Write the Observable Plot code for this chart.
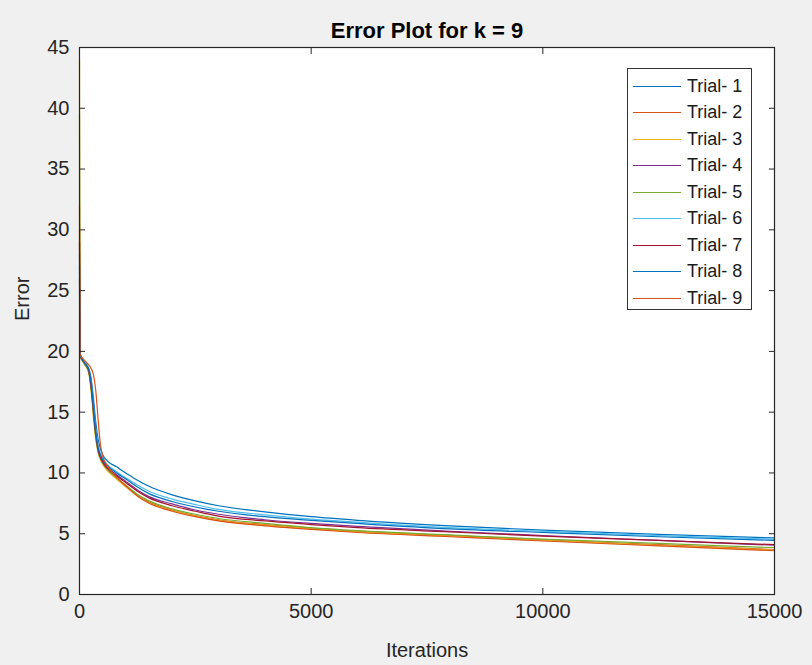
<!DOCTYPE html>
<html><head><meta charset="utf-8">
<script src="https://cdn.jsdelivr.net/npm/d3@7"></script>
<script src="https://cdn.jsdelivr.net/npm/@observablehq/plot@0.6"></script>
<style>
body{margin:0;background:#f0f0f0;}
#wrap{position:relative;width:812px;height:665px;background:#f0f0f0;font-family:"Liberation Sans",Arial,Helvetica,sans-serif;}
#legend{position:absolute;left:627px;top:68px;width:125px;height:242px;background:#fff;border:1px solid #333;box-sizing:border-box;}
.row{position:absolute;left:0;height:20px;display:flex;align-items:center;white-space:nowrap;}
.sw{width:48px;margin-left:5px;height:0;border-top:1.3px solid;}
.lbl{margin-left:6px;font-size:18px;color:#1a1a1a;}
</style></head><body><div id="wrap"></div>
<script>
// ---- data ----
const chartTitle = "Error Plot for k = 9";
const xLabel = "Iterations";
const yLabel = "Error";
const xTicks = [0, 5000, 10000, 15000];
const yTicks = [0, 5, 10, 15, 20, 25, 30, 35, 40, 45];
const iterations = [0, 10, 100, 200, 250, 300, 350, 400, 450, 500, 600, 800, 1000, 1250, 1500, 2000, 2500, 3000, 4000, 5000, 6000, 8000, 10000, 12500, 15000];
const trial1 = [28.0, 19.8, 19.2, 18.6, 17.8, 16.2, 14.2, 12.8, 12.0, 11.5, 11.0, 10.5, 10.0, 9.4, 8.9, 8.2, 7.7, 7.3, 6.8, 6.4, 6.1, 5.65, 5.3, 4.95, 4.65];
const trial2 = [30.0, 19.7, 19.0, 18.3, 17.0, 15.0, 13.0, 11.8, 11.2, 10.8, 10.3, 9.55, 8.9, 8.15, 7.6, 6.95, 6.5, 6.15, 5.75, 5.45, 5.2, 4.85, 4.5, 4.1, 3.7];
const trial3 = [44.0, 19.7, 19.0, 18.2, 16.8, 14.6, 12.8, 11.7, 11.1, 10.7, 10.2, 9.5, 8.85, 8.1, 7.55, 6.9, 6.45, 6.1, 5.7, 5.4, 5.15, 4.8, 4.45, 4.05, 3.65];
const trial4 = [26.0, 19.7, 19.1, 18.4, 17.2, 15.2, 13.3, 12.0, 11.4, 11.0, 10.5, 9.85, 9.3, 8.6, 8.05, 7.45, 6.95, 6.6, 6.15, 5.85, 5.6, 5.2, 4.85, 4.45, 4.05];
const trial5 = [39.5, 19.7, 19.0, 18.3, 17.0, 14.9, 13.0, 11.8, 11.2, 10.8, 10.3, 9.6, 9.0, 8.25, 7.7, 7.05, 6.6, 6.25, 5.85, 5.5, 5.25, 4.9, 4.55, 4.2, 3.85];
const trial6 = [25.0, 19.8, 19.2, 18.5, 17.5, 15.6, 13.6, 12.3, 11.6, 11.2, 10.7, 10.1, 9.6, 9.0, 8.5, 7.85, 7.4, 7.0, 6.55, 6.2, 5.95, 5.5, 5.2, 4.85, 4.55];
const trial7 = [29.0, 19.7, 19.1, 18.4, 17.1, 15.1, 13.2, 11.9, 11.3, 10.9, 10.4, 9.75, 9.2, 8.5, 7.95, 7.3, 6.85, 6.45, 6.05, 5.75, 5.5, 5.15, 4.8, 4.45, 4.1];
const trial8 = [27.0, 19.8, 19.1, 18.5, 17.4, 15.4, 13.4, 12.1, 11.5, 11.1, 10.6, 10.0, 9.5, 8.85, 8.3, 7.65, 7.2, 6.85, 6.4, 6.1, 5.85, 5.4, 5.1, 4.75, 4.45];
const trial9 = [32.0, 19.8, 19.3, 18.9, 18.6, 18.1, 16.8, 14.5, 12.4, 11.4, 10.6, 9.65, 8.95, 8.1, 7.5, 6.85, 6.4, 6.05, 5.65, 5.35, 5.1, 4.75, 4.4, 4.0, 3.6];
const trialNames = ["Trial- 1", "Trial- 2", "Trial- 3", "Trial- 4", "Trial- 5", "Trial- 6", "Trial- 7", "Trial- 8", "Trial- 9"];
const trialColors = ["#0072BD", "#D95319", "#EDB120", "#7E2F8E", "#77AC30", "#4DBEEE", "#A2142F", "#0072BD", "#D95319"];

// ---- build table ----
const series = [trial1, trial2, trial3, trial4, trial5, trial6, trial7, trial8, trial9];
const rows = [];
series.forEach((s, k) => s.forEach((v, i) => rows.push({trial: trialNames[k], iteration: iterations[i], error: v})));

const font = "'Liberation Sans', Arial, Helvetica, sans-serif";
const ink = "#262626";

const chart = Plot.plot({
  width: 812, height: 665,
  marginTop: 47, marginRight: 38, marginBottom: 71, marginLeft: 79,
  style: {background: "#f0f0f0", fontFamily: font, fontSize: "20px", color: ink, overflow: "visible"},
  x: {domain: [0, 15000], label: null},
  y: {domain: [0, 45], label: null},
  color: {domain: trialNames, range: trialColors},
  marks: [
    Plot.frame({fill: "white", stroke: null}),
    Plot.line(rows, {x: "iteration", y: "error", z: "trial", stroke: "trial", curve: "monotone-x", strokeWidth: 1.2}),
    Plot.frame({stroke: ink, strokeWidth: 1.2}),
    // tick labels
    Plot.axisX(xTicks, {anchor: "bottom", tickSize: 0, tickPadding: 9, fontSize: 20, fill: ink, tickFormat: d => String(d), label: null}),
    Plot.axisY(yTicks, {anchor: "left", tickSize: 0, tickPadding: 10, fontSize: 20, fill: ink, tickFormat: d => String(d), label: null}),
    // inward ticks on all four sides
    Plot.axisX(xTicks, {anchor: "bottom", tickSize: -6, tickFormat: () => "", stroke: ink, label: null}),
    Plot.axisX(xTicks, {anchor: "top", tickSize: -6, tickFormat: () => "", stroke: ink, label: null}),
    Plot.axisY(yTicks, {anchor: "left", tickSize: -6, tickFormat: () => "", stroke: ink, label: null}),
    Plot.axisY(yTicks, {anchor: "right", tickSize: -6, tickFormat: () => "", stroke: ink, label: null}),
    // title and axis labels
    Plot.text([chartTitle], {frameAnchor: "top", dy: -17, text: d => d, fontWeight: "bold", fontSize: 22, fill: "#000", lineAnchor: "middle"}),
    Plot.text([xLabel], {frameAnchor: "bottom", dy: 56, text: d => d, fontSize: 20, fill: ink, lineAnchor: "middle"}),
    Plot.text([yLabel], {frameAnchor: "left", dx: -57, text: d => d, fontSize: 20, fill: ink, rotate: -90, lineAnchor: "middle"})
  ]
});

const wrap = document.getElementById("wrap");
wrap.appendChild(chart);

// legend (HTML overlay)
const legend = document.createElement("div");
legend.id = "legend";
trialNames.forEach((name, i) => {
  const row = document.createElement("div");
  row.className = "row";
  row.style.top = (7 + i * 26.5) + "px";
  const sw = document.createElement("div");
  sw.className = "sw";
  sw.style.borderTopColor = trialColors[i];
  const lbl = document.createElement("span");
  lbl.className = "lbl";
  lbl.textContent = name;
  row.appendChild(sw); row.appendChild(lbl);
  legend.appendChild(row);
});
wrap.appendChild(legend);
</script></body></html>
